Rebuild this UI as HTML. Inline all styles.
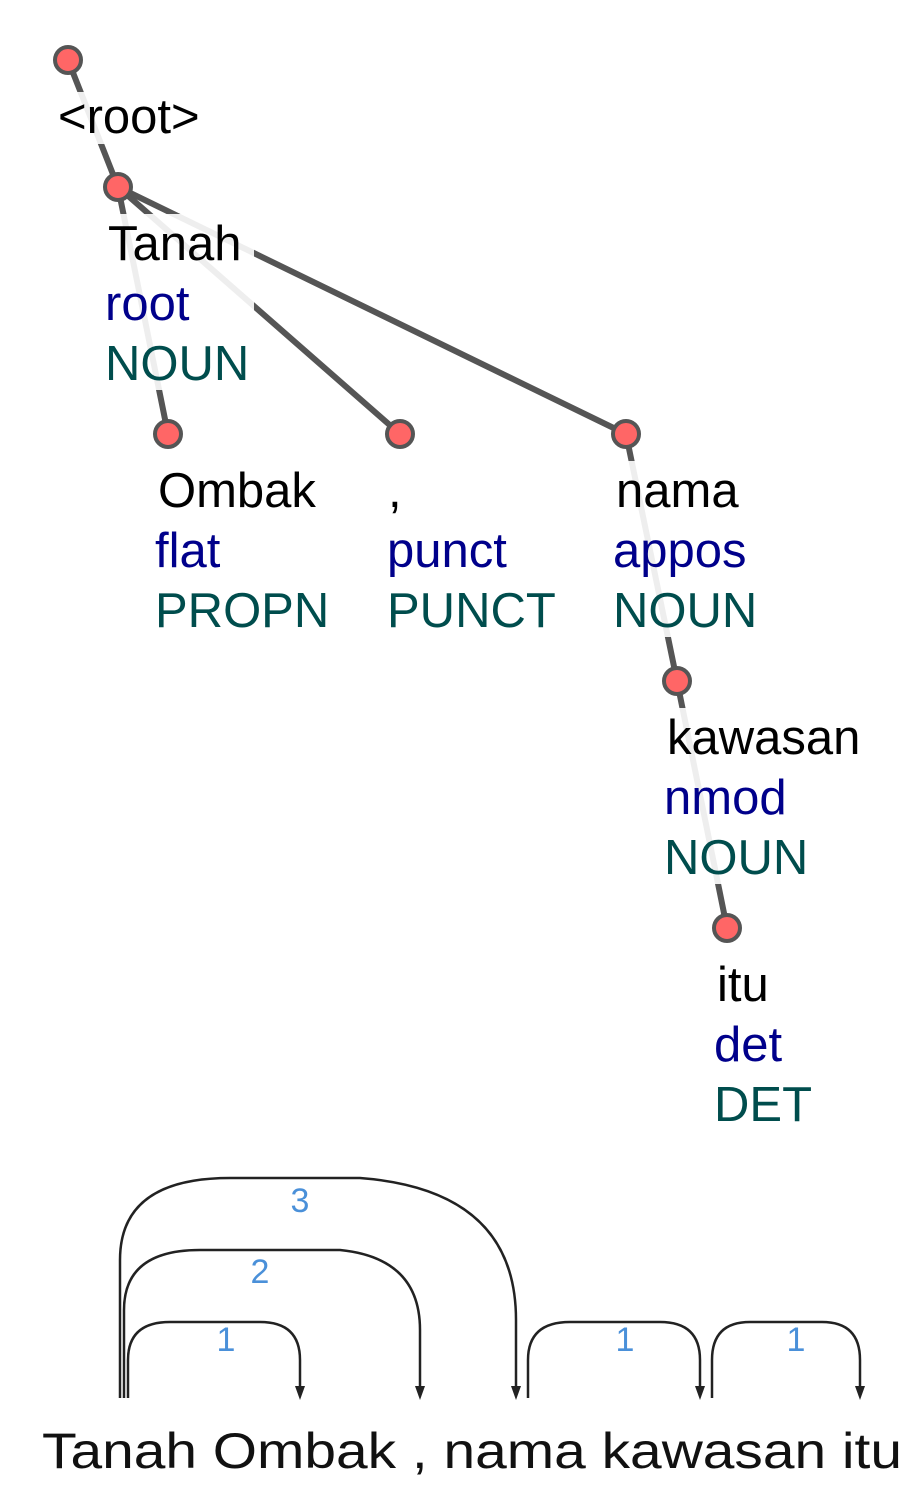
<!DOCTYPE html>
<html><head><meta charset="utf-8"><style>
html,body{margin:0;padding:0;background:#fff;}
svg{display:block;font-family:"Liberation Sans",Arial,sans-serif;}
</style></head><body>
<svg width="922" height="1511" viewBox="0 0 922 1511" xmlns="http://www.w3.org/2000/svg">
<g stroke="#555" stroke-width="6" stroke-linecap="round">
<line x1="68" y1="60" x2="118" y2="187"/>
<line x1="118" y1="187" x2="168" y2="434"/>
<line x1="118" y1="187" x2="400" y2="434"/>
<line x1="118" y1="187" x2="626" y2="434"/>
<line x1="626" y1="434" x2="677" y2="681"/>
<line x1="677" y1="681" x2="727" y2="928"/>
</g>
<g fill="#fff" fill-opacity="0.9">
<rect x="56" y="92" width="150" height="52"/>
<rect x="104" y="214" width="150" height="176"/>
<rect x="154" y="461" width="180" height="176"/>
<rect x="384" y="461" width="176" height="176"/>
<rect x="612" y="461" width="150" height="176"/>
<rect x="663" y="708" width="204" height="176"/>
<rect x="713" y="955" width="102" height="176"/>
</g>
<g fill="#f66" stroke="#555" stroke-width="4">
<circle cx="68" cy="60" r="13"/>
<circle cx="118" cy="187" r="13"/>
<circle cx="168" cy="434" r="13"/>
<circle cx="400" cy="434" r="13"/>
<circle cx="626" cy="434" r="13"/>
<circle cx="677" cy="681" r="13"/>
<circle cx="727" cy="928" r="13"/>
</g>
<g font-size="49">
<text x="58" y="133" fill="#000">&lt;root&gt;</text>
<text x="108" y="260" fill="#000">Tanah</text>
<text x="105" y="320" fill="#00008b">root</text>
<text x="105" y="380" fill="#004d4d">NOUN</text>
<text x="158" y="507" fill="#000">Ombak</text>
<text x="155" y="567" fill="#00008b">flat</text>
<text x="155" y="627" fill="#004d4d">PROPN</text>
<text x="388" y="507" fill="#000">,</text>
<text x="387" y="567" fill="#00008b">punct</text>
<text x="387" y="627" fill="#004d4d">PUNCT</text>
<text x="616" y="507" fill="#000">nama</text>
<text x="613" y="567" fill="#00008b">appos</text>
<text x="613" y="627" fill="#004d4d">NOUN</text>
<text x="667" y="754" fill="#000">kawasan</text>
<text x="664" y="814" fill="#00008b">nmod</text>
<text x="664" y="874" fill="#004d4d">NOUN</text>
<text x="717" y="1001" fill="#000">itu</text>
<text x="714" y="1061" fill="#00008b">det</text>
<text x="714" y="1121" fill="#004d4d">DET</text>
</g>
<g fill="none" stroke="#222" stroke-width="2.5">
<path d="M128 1398 V1360 Q128 1322 170 1322 H260 Q300 1322 300 1360 V1390"/>
<path d="M124 1398 V1310 Q124 1250 200 1250 H340 Q420 1258 420 1330 V1390"/>
<path d="M120 1398 V1260 Q120 1178 230 1178 H360 Q516 1190 516 1320 V1390"/>
<path d="M528 1398 V1360 Q528 1322 570 1322 H660 Q700 1322 700 1360 V1390"/>
<path d="M712 1398 V1360 Q712 1322 750 1322 H822 Q860 1322 860 1360 V1390"/>
</g>
<g fill="#222">
<polygon points="295,1386 305,1386 300,1400"/>
<polygon points="415,1386 425,1386 420,1400"/>
<polygon points="511,1386 521,1386 516,1400"/>
<polygon points="695,1386 705,1386 700,1400"/>
<polygon points="855,1386 865,1386 860,1400"/>
</g>
<g font-size="34" fill="#4a90d9" text-anchor="middle">
<text x="300" y="1212">3</text>
<text x="260" y="1283">2</text>
<text x="226" y="1351">1</text>
<text x="625" y="1351">1</text>
<text x="796" y="1351">1</text>
</g>
<text x="42" y="1468" font-size="50" fill="#111" textLength="860" lengthAdjust="spacingAndGlyphs">Tanah Ombak , nama kawasan itu</text>
</svg>
</body></html>
